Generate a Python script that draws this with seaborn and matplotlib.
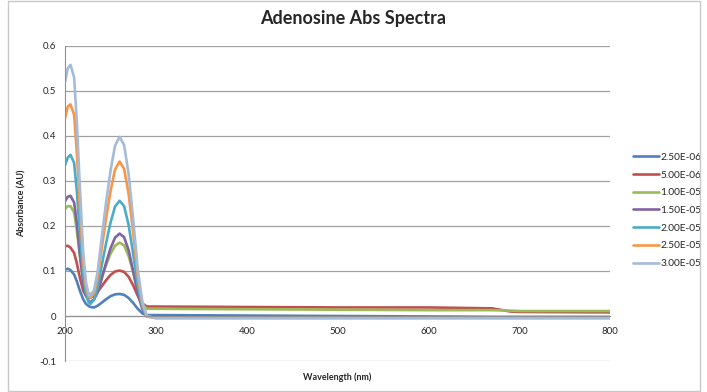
import matplotlib
matplotlib.use("Agg")
import matplotlib.pyplot as plt
import seaborn as sns
import pandas as pd

# wavelength grid (nm)
wavelength = [200, 203, 206, 210, 213, 216, 220, 223, 226, 228, 232, 236, 240, 245, 250,
              255, 260, 265, 270, 275, 280, 285, 290, 300, 400, 500, 600, 670, 690, 700, 800]

conc_labels = ["2.50E-06", "5.00E-06", "1.00E-05", "1.50E-05", "2.00E-05", "2.50E-05", "3.00E-05"]

abs_2_5e6 = [0.103, 0.105, 0.102, 0.092, 0.077, 0.058, 0.037, 0.027, 0.022, 0.020, 0.019, 0.023, 0.029,
             0.037, 0.044, 0.048, 0.049, 0.047, 0.040, 0.029, 0.016, 0.006, 0.002, 0.002, 0.001,
             0.000, -0.001, -0.002, -0.002, -0.002, -0.002]
abs_5e6 = [0.155, 0.156, 0.152, 0.140, 0.117, 0.088, 0.056, 0.045, 0.040, 0.041, 0.045, 0.054, 0.065,
           0.079, 0.091, 0.099, 0.101, 0.098, 0.087, 0.068, 0.045, 0.028, 0.021, 0.021, 0.020,
           0.019, 0.019, 0.017, 0.010, 0.009, 0.008]
abs_1e5 = [0.238, 0.244, 0.244, 0.230, 0.190, 0.138, 0.078, 0.055, 0.049, 0.049, 0.053, 0.066, 0.086,
           0.112, 0.138, 0.156, 0.163, 0.157, 0.133, 0.097, 0.057, 0.026, 0.016, 0.016, 0.015,
           0.014, 0.013, 0.013, 0.012, 0.011, 0.011]
abs_1_5e5 = [0.255, 0.265, 0.267, 0.252, 0.207, 0.145, 0.072, 0.045, 0.033, 0.031, 0.037, 0.053, 0.080,
             0.117, 0.150, 0.174, 0.183, 0.175, 0.146, 0.100, 0.050, 0.015, 0.000, -0.002, -0.003,
             -0.003, -0.003, -0.003, -0.003, -0.003, -0.003]
abs_2e5 = [0.335, 0.352, 0.358, 0.340, 0.277, 0.193, 0.092, 0.050, 0.030, 0.027, 0.036, 0.064, 0.108,
           0.160, 0.207, 0.243, 0.256, 0.244, 0.202, 0.138, 0.068, 0.020, -0.001, -0.004, -0.004,
           -0.004, -0.004, -0.004, -0.004, -0.004, -0.004]
abs_2_5e5 = [0.440, 0.465, 0.470, 0.447, 0.363, 0.253, 0.120, 0.066, 0.043, 0.040, 0.051, 0.086, 0.145,
             0.215, 0.277, 0.325, 0.343, 0.327, 0.271, 0.185, 0.090, 0.027, -0.001, -0.004, -0.004,
             -0.004, -0.004, -0.004, -0.004, -0.004, -0.004]
abs_3e5 = [0.520, 0.550, 0.558, 0.530, 0.430, 0.300, 0.140, 0.075, 0.047, 0.045, 0.058, 0.100, 0.168,
           0.250, 0.322, 0.378, 0.398, 0.380, 0.315, 0.215, 0.105, 0.032, 0.000, -0.005, -0.005,
           -0.005, -0.005, -0.005, -0.005, -0.005, -0.005]

series = [abs_2_5e6, abs_5e6, abs_1e5, abs_1_5e5, abs_2e5, abs_2_5e5, abs_3e5]
colors = ["#4F81BD", "#C0504D", "#9BBB59", "#8064A2", "#4BACC6", "#F79646", "#A5BBDA"]

rows = []
for label, vals in zip(conc_labels, series):
    for w, a in zip(wavelength, vals):
        rows.append({"Wavelength": w, "Absorbance": a, "Conc": label})
df = pd.DataFrame(rows)

sns.set_style("white")
plt.rcParams["font.family"] = ["Lato", "DejaVu Sans"]

fig = plt.figure(figsize=(7.07, 3.92), dpi=100)
ax = fig.add_axes([0.092, 0.079, 0.771, 0.804])

sns.lineplot(data=df, x="Wavelength", y="Absorbance", hue="Conc", hue_order=conc_labels,
             palette=colors, linewidth=1.9, ax=ax, sort=False)
for ln in ax.get_lines():
    ln.set_solid_joinstyle("round")

ax.set_xlim(200, 800)
ax.set_ylim(-0.1, 0.6)
ax.set_xticks([200, 300, 400, 500, 600, 700, 800])
ax.set_yticks([-0.1, 0, 0.1, 0.2, 0.3, 0.4, 0.5, 0.6])
ax.set_yticklabels(["-0.1", "0", "0.1", "0.2", "0.3", "0.4", "0.5", "0.6"])
ax.yaxis.grid(True, color="#A0A0A0", linewidth=0.9)
ax.set_axisbelow(True)

for s in ["top", "right"]:
    ax.spines[s].set_visible(False)
ax.spines["bottom"].set_position(("data", 0))
ax.spines["bottom"].set_color("#909090")
ax.spines["left"].set_color("#909090")
ax.tick_params(axis="both", labelsize=7, length=3, color="#909090", direction="out")
ax.tick_params(axis="x", pad=5)

ax.set_xlabel("Wavelength (nm)", fontsize=6.5, fontweight="bold")
ax.set_ylabel("Absorbance (AU)", fontsize=6.5, fontweight="bold")
ax.xaxis.set_label_coords(0.5, -0.035)
ax.yaxis.set_label_coords(-0.07, 0.5)

fig.suptitle("Adenosine Abs Spectra", fontsize=13, fontweight="bold", y=0.975)

ax.legend(loc="upper left", bbox_to_anchor=(1.025, 0.69), frameon=False, fontsize=7.3,
          handlelength=2.6, handletextpad=0.1, labelspacing=0.85)

fig.patches.append(plt.Rectangle((0.012, 0.003), 0.978, 0.994, transform=fig.transFigure,
                                 fill=False, edgecolor="#C8C8C8", linewidth=1))

fig.savefig("out.png", dpi=100)
